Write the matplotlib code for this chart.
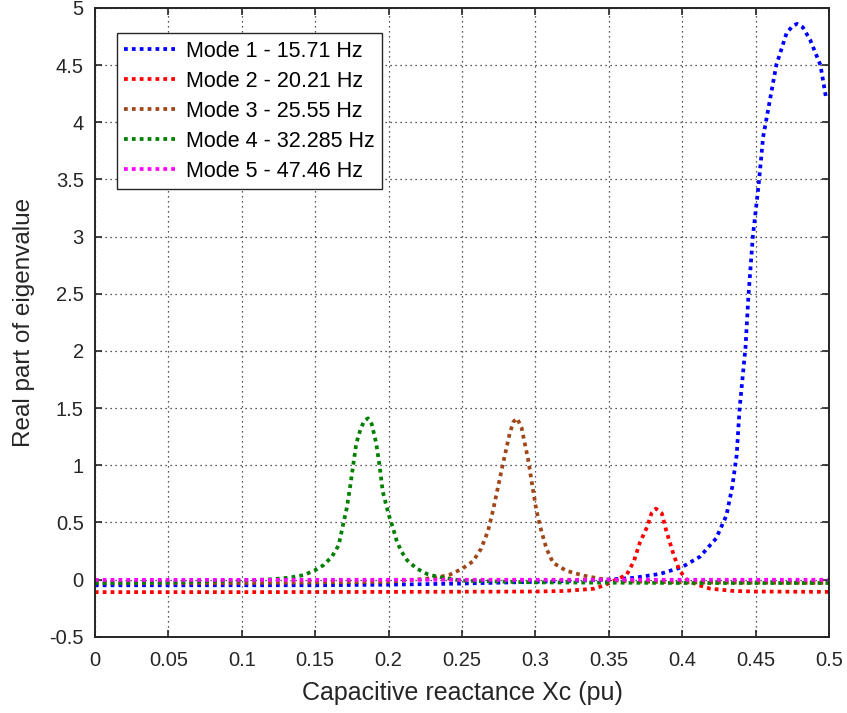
import matplotlib.pyplot as plt

plt.rcParams['font.family'] = ['Liberation Sans', 'DejaVu Sans']

# Mode 1 - 15.71 Hz (blue)
x1 = [0.0, 0.05, 0.1, 0.15, 0.2, 0.25, 0.3, 0.33, 0.35, 0.367, 0.385, 0.40, 0.412, 0.423,
      0.430, 0.434, 0.437, 0.439, 0.443, 0.445, 0.448, 0.452, 0.455, 0.460, 0.464, 0.471,
      0.475, 0.478, 0.482, 0.487, 0.494, 0.498]
y1 = [-0.05, -0.05, -0.05, -0.05, -0.045, -0.035, -0.02, -0.01, 0.0, 0.015, 0.05, 0.11, 0.2, 0.36,
      0.56, 0.81, 1.09, 1.5, 2.03, 2.48, 3.0, 3.46, 3.87, 4.22, 4.5, 4.78,
      4.84, 4.86, 4.83, 4.72, 4.5, 4.2]

# Mode 2 - 20.21 Hz (red)
x2 = [0.0, 0.1, 0.2, 0.3, 0.32, 0.34, 0.348, 0.355, 0.362, 0.367, 0.371, 0.376, 0.379, 0.382,
      0.386, 0.389, 0.394, 0.398, 0.403, 0.41, 0.419, 0.435, 0.45, 0.5]
y2 = [-0.11, -0.11, -0.108, -0.105, -0.1, -0.08, -0.045, 0.0, 0.04, 0.16, 0.32, 0.46, 0.58, 0.62,
      0.58, 0.43, 0.22, 0.08, 0.0, -0.045, -0.08, -0.1, -0.105, -0.108]

# Mode 3 - 25.55 Hz (brown)
x3 = [0.0, 0.1, 0.2, 0.228, 0.235, 0.2416, 0.25, 0.2575, 0.263, 0.2677, 0.271, 0.2745,
      0.278, 0.2825, 0.285, 0.2875, 0.2905, 0.295, 0.298, 0.3007, 0.304, 0.3075, 0.312, 0.321,
      0.3325, 0.344, 0.36, 0.4, 0.5]
y3 = [-0.03, -0.03, -0.02, 0.01, 0.024, 0.042, 0.094, 0.16, 0.27, 0.425, 0.6, 0.81,
      1.02, 1.28, 1.38, 1.41, 1.33, 1.05, 0.81, 0.6, 0.425, 0.27, 0.146, 0.077,
      0.035, 0.007, -0.015, -0.025, -0.03]

# Mode 4 - 32.285 Hz (green)
x4 = [0.0, 0.05, 0.105, 0.1216, 0.133, 0.142, 0.15, 0.1557, 0.1614, 0.166, 0.169, 0.1716,
      0.174, 0.176, 0.178, 0.181, 0.1835, 0.186, 0.1885, 0.1916, 0.194, 0.196, 0.2, 0.203,
      0.2057, 0.209, 0.2125, 0.219, 0.2268, 0.235, 0.25, 0.3, 0.4, 0.5]
y4 = [-0.03, -0.025, -0.006, 0.003, 0.018, 0.038, 0.082, 0.126, 0.2, 0.3, 0.48, 0.63,
      0.83, 1.01, 1.19, 1.32, 1.39, 1.41, 1.36, 1.19, 0.98, 0.77, 0.57, 0.45,
      0.33, 0.24, 0.17, 0.097, 0.045, 0.02, -0.01, -0.025, -0.03, -0.03]

# Mode 5 - 47.46 Hz (magenta)
x5 = [0.0, 0.1, 0.2, 0.3, 0.4, 0.5]
y5 = [-0.003, -0.003, -0.002, -0.002, -0.002, -0.002]

labels = ['Mode 1 - 15.71 Hz', 'Mode 2 - 20.21 Hz', 'Mode 3 - 25.55 Hz',
          'Mode 4 - 32.285 Hz', 'Mode 5 - 47.46 Hz']
colors = ['#0000ff', '#ff0000', '#a0471a', '#008000', '#ff00ff']

xticks = [0, 0.05, 0.1, 0.15, 0.2, 0.25, 0.3, 0.35, 0.4, 0.45, 0.5]
xticklabels = ['0', '0.05', '0.1', '0.15', '0.2', '0.25', '0.3', '0.35', '0.4', '0.45', '0.5']
yticks = [-0.5, 0, 0.5, 1, 1.5, 2, 2.5, 3, 3.5, 4, 4.5, 5]
yticklabels = ['-0.5', '0', '0.5', '1', '1.5', '2', '2.5', '3', '3.5', '4', '4.5', '5']

fig = plt.figure(figsize=(8.47, 7.13), dpi=100)
ax = fig.add_axes([0.112, 0.107, 0.867, 0.882])

for xs, ys, c, lab in zip([x1, x2, x3, x4, x5], [y1, y2, y3, y4, y5], colors, labels):
    ax.plot(xs, ys, linestyle=(0, (1, 1.1)), color=c, linewidth=2.7, label=lab)

ax.set_xlim(0, 0.5)
ax.set_ylim(-0.5, 5)
ax.set_xticks(xticks)
ax.set_xticklabels(xticklabels)
ax.set_yticks(yticks)
ax.set_yticklabels(yticklabels)
ax.grid(True, linestyle=(0, (1, 3)), color='#222222', linewidth=0.9)
ax.tick_params(direction='in', top=True, right=True, labelsize=14.5, colors='#262626',
               length=5, width=1.2)
ax.tick_params(axis='x', pad=10)
ax.tick_params(axis='y', pad=8)
for s in ax.spines.values():
    s.set_linewidth(1.4)
    s.set_color('#262626')

ax.set_xlabel('Capacitive reactance Xc (pu)', fontsize=18, color='#262626', labelpad=8)
ax.set_ylabel('Real part of eigenvalue', fontsize=17.5, color='#262626', labelpad=10)

leg = ax.legend(loc='upper left', bbox_to_anchor=(0.03, 0.96), fontsize=15.5,
                fancybox=False, framealpha=1, edgecolor='#262626', handlelength=2.5,
                handletextpad=0.35, borderpad=0.35, labelspacing=0.42, borderaxespad=0)
leg.get_frame().set_linewidth(1.0)

plt.savefig('out.png', dpi=100)
